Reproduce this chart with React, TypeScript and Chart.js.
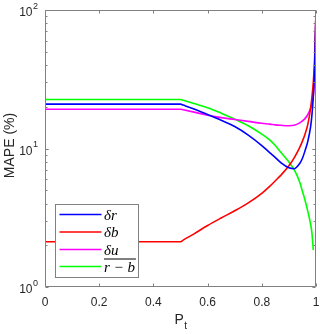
import React, { useEffect, useRef } from "react";
import { Chart, registerables } from "chart.js";

Chart.register(...registerables);

// ---- data ----
const P_VALUES = [0, 0.5, 0.51, 0.55, 0.6, 0.65, 0.7, 0.75, 0.8, 0.83, 0.85, 0.87, 0.9, 0.92, 0.94, 0.95, 0.96, 0.97, 0.98, 0.985, 0.99, 0.995, 1];
const DELTA_R = [20.9, 20.9, 20.58, 19.3, 17.6, 16.0, 14.4, 12.5, 10.5, 9.3, 8.6, 7.9, 7.25, 7.15, 7.8, 8.5, 9.7, 11.3, 14.3, 17.5, 23.7, 38, 100];
const DELTA_B = [2.12, 2.12, 2.18, 2.42, 2.78, 3.15, 3.55, 4.05, 4.75, 5.35, 5.85, 6.4, 7.5, 8.6, 10.2, 11.3, 12.8, 15, 19.5, 23.5, 30, 45, 100];
const DELTA_U = [19.2, 19.2, 19.02, 18.3, 17.4, 16.7, 16.2, 15.7, 15.2, 15.0, 14.8, 14.7, 14.6, 14.7, 15.3, 15.8, 16.5, 17.6, 19.5, 21.2, 24, 35, 100];
const R_MINUS_B = [22.6, 22.6, 22.3, 21.1, 19.7, 18.0, 16.3, 14.6, 12.7, 11.5, 10.5, 9.4, 8.0, 7.0, 5.7, 4.9, 4.2, 3.5, 2.85, 2.45, 1.85, null, null];

const SERIES_LABELS = ["δr", "δb", "δu", "r − b"];
const SERIES_OVERLINE = [false, false, false, true];
const SERIES_COLORS = ["#0000ff", "#ff0000", "#ff00ff", "#00ff00"];

const X_TICKS = [0, 0.2, 0.4, 0.6, 0.8, 1];
const X_TICK_LABELS = ["0", "0.2", "0.4", "0.6", "0.8", "1"];
const Y_TICKS = [1, 10, 100];
const Y_TICK_EXPONENTS = ["0", "1", "2"];

const AXIS_COLOR = "#808080";
const TEXT_COLOR = "#262626";
const SANS = "'Liberation Sans', Arial, sans-serif";
const SERIF = "'Liberation Serif', 'DejaVu Serif', serif";

const decoPlugin = {
  id: "deco",
  afterDatasetsDraw(chart: any) {
    const { ctx, chartArea: a, scales } = chart;
    const xs = scales.x;
    const ys = scales.y;
    ctx.save();
    const L = Math.round(a.left) + 0.5;
    const R = Math.round(a.right) - 0.5;
    const T = Math.round(a.top) + 0.5;
    const B = Math.round(a.bottom) - 0.5;
    ctx.strokeStyle = AXIS_COLOR;
    ctx.lineWidth = 1;
    ctx.beginPath();
    ctx.rect(L, T, R - L, B - T);
    // x ticks
    X_TICKS.forEach((v) => {
      const px = Math.round(xs.getPixelForValue(v)) + 0.5;
      ctx.moveTo(px, B);
      ctx.lineTo(px, B - 3);
      ctx.moveTo(px, T);
      ctx.lineTo(px, T + 3);
    });
    // y major + minor ticks
    for (let d = 0; d < 2; d++) {
      for (let m = 1; m <= 10; m++) {
        const v = m * Math.pow(10, d);
        const py = Math.round(ys.getPixelForValue(v)) + 0.5;
        const len = m === 1 || m === 10 ? 3 : 2;
        ctx.moveTo(L, py);
        ctx.lineTo(L + len, py);
        ctx.moveTo(R, py);
        ctx.lineTo(R - len, py);
      }
    }
    ctx.stroke();

    // x tick labels
    ctx.fillStyle = TEXT_COLOR;
    ctx.font = `12px ${SANS}`;
    ctx.textAlign = "center";
    ctx.textBaseline = "middle";
    X_TICKS.forEach((v, i) => {
      ctx.fillText(X_TICK_LABELS[i], xs.getPixelForValue(v), a.bottom + 15.5);
    });

    // y tick labels 10^k
    Y_TICKS.forEach((v, i) => {
      const py = ys.getPixelForValue(v);
      ctx.textAlign = "right";
      ctx.font = `12px ${SANS}`;
      ctx.fillText("10", 32.5, py + 3);
      ctx.textAlign = "left";
      ctx.font = `9px ${SANS}`;
      ctx.fillText(Y_TICK_EXPONENTS[i], 33, py - 3.5);
    });

    // x axis title P_t
    const cx = (a.left + a.right) / 2;
    ctx.textAlign = "left";
    ctx.textBaseline = "alphabetic";
    ctx.font = `14px ${SANS}`;
    const pw = ctx.measureText("P").width;
    ctx.font = `10px ${SANS}`;
    const tw = ctx.measureText("t").width;
    const startX = cx - (pw + tw) / 2;
    ctx.font = `14px ${SANS}`;
    ctx.fillText("P", startX, 324);
    ctx.font = `10px ${SANS}`;
    ctx.fillText("t", startX + pw + 0.5, 329);

    // y axis title
    ctx.save();
    ctx.translate(10.5, (a.top + a.bottom) / 2 - 3);
    ctx.rotate(-Math.PI / 2);
    ctx.textAlign = "center";
    ctx.textBaseline = "middle";
    ctx.font = `14px ${SANS}`;
    ctx.fillText("MAPE (%)", 0, 0);
    ctx.restore();

    // legend
    const lx = 55.5, ly = 204.5, lw = 83, lh = 73;
    ctx.fillStyle = "#ffffff";
    ctx.fillRect(lx, ly, lw, lh);
    ctx.strokeStyle = AXIS_COLOR;
    ctx.strokeRect(lx, ly, lw, lh);
    const rowY = [214.5, 232, 249.5, 266.5];
    chart.data.datasets.forEach((ds: any, i: number) => {
      const y = rowY[i];
      ctx.strokeStyle = ds.borderColor;
      ctx.lineWidth = 1.5;
      ctx.beginPath();
      ctx.moveTo(59.5, y);
      ctx.lineTo(101.5, y);
      ctx.stroke();
      ctx.fillStyle = "#000000";
      ctx.font = `italic 15px ${SERIF}`;
      ctx.textAlign = "left";
      ctx.textBaseline = "alphabetic";
      ctx.fillText(ds.label, 104, y + 5);
      if (SERIES_OVERLINE[i]) {
        const w = ctx.measureText(ds.label).width;
        ctx.strokeStyle = "#000000";
        ctx.lineWidth = 1;
        ctx.beginPath();
        ctx.moveTo(104, y - 7.5);
        ctx.lineTo(104 + w + 1, y - 7.5);
        ctx.stroke();
      }
    });
    ctx.restore();
  },
};

export default function App() {
  const ref = useRef<HTMLCanvasElement | null>(null);
  useEffect(() => {
    if (!ref.current) return;
    const series = [DELTA_R, DELTA_B, DELTA_U, R_MINUS_B];
    const chart = new Chart(ref.current, {
      type: "line",
      data: {
        datasets: series.map((vals, i) => ({
          label: SERIES_LABELS[i],
          data: P_VALUES.map((p, j) => ({ x: p, y: vals[j] })),
          borderColor: SERIES_COLORS[i],
          backgroundColor: SERIES_COLORS[i],
          borderWidth: 1.6,
          pointRadius: 0,
          cubicInterpolationMode: "monotone" as const,
          fill: false,
        })),
      },
      options: {
        animation: false,
        responsive: false,
        maintainAspectRatio: false,
        layout: { padding: { left: 45, right: 4, top: 10, bottom: 47 } },
        plugins: { legend: { display: false }, tooltip: { enabled: false } },
        scales: {
          x: { type: "linear", min: 0, max: 1, display: false },
          y: { type: "logarithmic", min: 1, max: 100, display: false },
        },
      },
      plugins: [decoPlugin],
    });
    return () => chart.destroy();
  }, []);
  return (
    <div style={{ position: "absolute", left: 0, top: 0, width: 320, height: 334, background: "#fff" }}>
      <canvas ref={ref} width={320} height={334} style={{ width: 320, height: 334, display: "block" }} />
    </div>
  );
}
